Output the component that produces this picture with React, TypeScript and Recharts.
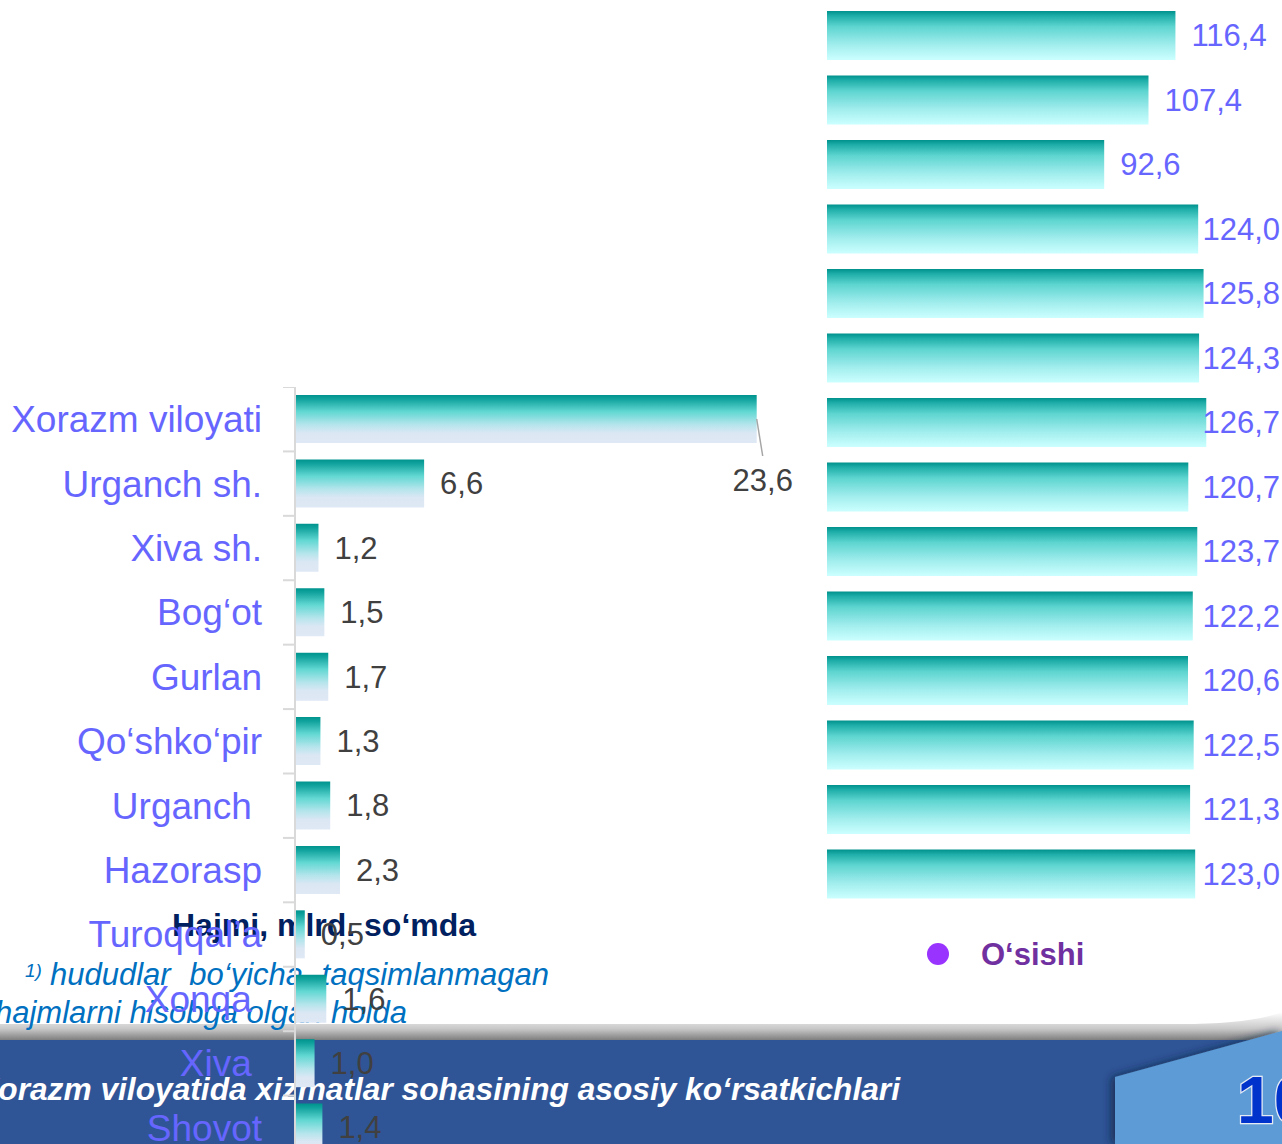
import React from "react";
import { BarChart, Bar, XAxis, YAxis, LabelList } from "recharts";

// Hajmi, mlrd. so'mda (left chart)
const districts = [
  "Xorazm viloyati",
  "Urganch sh.",
  "Xiva sh.",
  "Bog‘ot",
  "Gurlan",
  "Qo‘shko‘pir",
  "Urganch ",
  "Hazorasp",
  "Turoqqal’a",
  "Xonqa ",
  "Xiva ",
  "Shovot",
];
const volumes = [23.6, 6.6, 1.2, 1.5, 1.7, 1.3, 1.8, 2.3, 0.5, 1.6, 1.0, 1.4];

// O'sishi, % (right chart)
const growth = [
  116.4, 107.4, 92.6, 124.0, 125.8, 124.3, 126.7, 120.7, 123.7, 122.2, 120.6,
  122.5, 121.3, 123.0,
];

const FONT = '"Liberation Sans", Arial, sans-serif';
const LABEL_BLUE = "#6666FF";

const LEFT_TOP = 387;
const LEFT_W = 878;
const LEFT_H = 773;
const AXIS_W = 295;
const BAND = LEFT_H / districts.length;

const RIGHT_LEFT = 827;
const RIGHT_TOP = 3;
const RIGHT_W = 455;
const RIGHT_H = 903;

const fmt = (v: number) => v.toFixed(1).replace(".", ",");

const DistrictTick = (props: any) => {
  const { x, y, payload } = props;
  return (
    <g>
      <line x1={x + 21} x2={x + 33} y1={y - BAND / 2} y2={y - BAND / 2} stroke="#d9d9d9" strokeWidth={2} />
      <text
        x={x}
        y={y}
        dy="0.35em"
        textAnchor="end"
        fill={LABEL_BLUE}
        fontSize={37}
        fontFamily={FONT}
        style={{ whiteSpace: "pre" }}
      >
        {payload.value}
      </text>
    </g>
  );
};

const maxVolume = Math.max(...volumes);

const VolumeLabel = (props: any) => {
  const { x, y, width, height, value } = props;
  const end = Number(x) + Number(width);
  const text = fmt(Number(value));
  if (Number(value) === maxVolume) {
    // big bar: label sits below the end with a leader line
    return (
      <g>
        <line x1={end} y1={y + height / 2} x2={end + 6} y2={y + height + 13} stroke="#a6a6a6" strokeWidth={1.5} />
        <text x={end + 6} y={y + height + 37} dy="0.35em" textAnchor="middle" fill="#404040" fontSize={31} fontFamily={FONT}>
          {text}
        </text>
      </g>
    );
  }
  return (
    <text x={end + 16} y={y + height / 2} dy="0.35em" fill="#404040" fontSize={31} fontFamily={FONT}>
      {text}
    </text>
  );
};

const GrowthLabel = (props: any) => {
  const { x, y, width, height, value } = props;
  const end = Number(x) + Number(width);
  const text = fmt(Number(value));
  const approxW = (text.length - 1) * 0.556 * 31 + 0.278 * 31;
  const tx = Math.min(end + 16, RIGHT_W - 2 - approxW);
  return (
    <text x={tx} y={y + height / 2} dy="0.35em" fill={LABEL_BLUE} fontSize={31} fontFamily={FONT}>
      {text}
    </text>
  );
};

export default function App() {
  const volumeData = districts.map((name, i) => ({ name, value: volumes[i] }));
  const growthData = growth.map((value, i) => ({ row: i, value }));

  return (
    <div
      style={{
        position: "absolute",
        left: 0,
        top: 0,
        width: 1282,
        height: 1144,
        overflow: "hidden",
        background: "#ffffff",
        fontFamily: FONT,
      }}
    >
      <svg width={1282} height={1144} style={{ position: "absolute", left: 0, top: 0 }}>
        <defs>
          <linearGradient id="shadowGrad" x1="0" y1="0" x2="0" y2="1">
            <stop offset="0" stopColor="#ffffff" />
            <stop offset="0.6" stopColor="#c8c8c8" />
            <stop offset="1" stopColor="#7f7f7f" />
          </linearGradient>
          <filter id="edgeShadow" x="-20%" y="-20%" width="140%" height="140%">
            <feDropShadow dx={-4} dy={0} stdDeviation={4} floodColor="#10203f" floodOpacity={0.7} />
          </filter>
        </defs>

        {/* bottom banner */}
        <path d="M0 1024 H1180 Q1250 1024 1282 1012 V1040 H0 Z" fill="url(#shadowGrad)" />
        <rect x={0} y={1040} width={1282} height={104} fill="#2F5597" />
        <polygon points="1115,1077 1282,1031 1282,1144 1115,1144" fill="#5B9BD5" filter="url(#edgeShadow)" />
        <text x={1237} y={1123} fontSize={66} fontWeight="bold" fill="#0033CC" stroke="#e4eaf4" strokeWidth={2.5} paintOrder="stroke" fontFamily={FONT}>
          10
        </text>
        <text x={900} y={1100} textAnchor="end" fontSize={31.7} fontWeight="bold" fontStyle="italic" fill="#ffffff" fontFamily={FONT}>
          Xorazm viloyatida xizmatlar sohasining asosiy ko‘rsatkichlari
        </text>

        {/* chart title & footnote */}
        <text x={172} y={936} fontSize={32} fontWeight="bold" fill="#002060" fontFamily={FONT}>
          Hajmi, mlrd. so‘mda
        </text>
        <text x={25} y={977} fontSize={19} fontStyle="italic" fill="#0070C0" fontFamily={FONT}>
          1)
        </text>
        <text x={50} y={985} fontSize={31} fontStyle="italic" fill="#0070C0" wordSpacing={10} fontFamily={FONT}>
          hududlar bo‘yicha taqsimlanmagan
        </text>
        <text x={-5} y={1023} fontSize={31} fontStyle="italic" fill="#0070C0" fontFamily={FONT}>
          hajmlarni hisobga olgan holda
        </text>

        {/* legend of the growth chart */}
        <circle cx={938} cy={954} r={11} fill="#9933FF" />
        <text x={981} y={965} fontSize={31} fontWeight="bold" fill="#7030A0" fontFamily={FONT}>
          O‘sishi
        </text>
      </svg>

      <div style={{ position: "absolute", left: 0, top: LEFT_TOP }}>
        <BarChart
          width={LEFT_W}
          height={LEFT_H}
          data={volumeData}
          layout="vertical"
          margin={{ top: 0, right: 0, bottom: 0, left: 0 }}
        >
          <defs>
            <linearGradient id="volGrad" x1="0" y1="0" x2="0" y2="1">
              <stop offset="0" stopColor="#00938E" />
              <stop offset="0.08" stopColor="#0FA19C" />
              <stop offset="0.35" stopColor="#63D8D3" />
              <stop offset="0.62" stopColor="#B5E5EC" />
              <stop offset="0.8" stopColor="#DCE7F4" />
              <stop offset="1" stopColor="#DFE8F5" />
            </linearGradient>
          </defs>
          <XAxis type="number" domain={[0, 29.8]} hide />
          <YAxis
            type="category"
            dataKey="name"
            width={AXIS_W}
            tickSize={0}
            tickMargin={33}
            tickLine={false}
            axisLine={{ stroke: "#d9d9d9", strokeWidth: 2 }}
            tick={<DistrictTick />}
            interval={0}
          />
          <Bar dataKey="value" fill="url(#volGrad)" barSize={48} isAnimationActive={false}>
            <LabelList dataKey="value" content={<VolumeLabel />} />
          </Bar>
        </BarChart>
      </div>

      <div style={{ position: "absolute", left: RIGHT_LEFT, top: RIGHT_TOP }}>
        <BarChart
          width={RIGHT_W}
          height={RIGHT_H}
          data={growthData}
          layout="vertical"
          margin={{ top: 0, right: 0, bottom: 0, left: 0 }}
        >
          <defs>
            <linearGradient id="growGrad" x1="0" y1="0" x2="0" y2="1">
              <stop offset="0" stopColor="#00918D" />
              <stop offset="0.1" stopColor="#1FAEA9" />
              <stop offset="0.32" stopColor="#5ED5D0" />
              <stop offset="0.7" stopColor="#A3EEEE" />
              <stop offset="1" stopColor="#CCFFFF" />
            </linearGradient>
          </defs>
          <XAxis type="number" domain={[0, 152]} hide />
          <YAxis type="category" dataKey="row" hide />
          <Bar dataKey="value" fill="url(#growGrad)" barSize={49} isAnimationActive={false}>
            <LabelList dataKey="value" content={<GrowthLabel />} />
          </Bar>
        </BarChart>
      </div>
    </div>
  );
}
